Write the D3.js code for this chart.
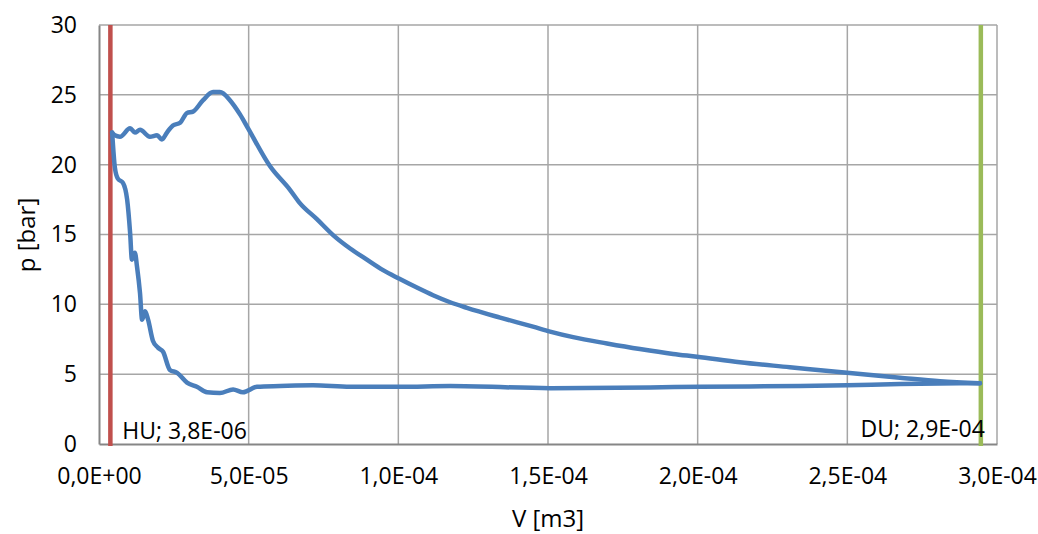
<!DOCTYPE html>
<html>
<head>
<meta charset="utf-8">
<script src="https://cdn.jsdelivr.net/npm/d3@7"></script>
<style>
  html, body { margin: 0; padding: 0; background: #ffffff; }
  svg { display: block; font-family: "Open Sans", "Liberation Sans", sans-serif; }
</style>
</head>
<body>
<svg id="chart" width="1038" height="534"></svg>
<script>
// ---- Data (V in m3, p in bar) ----
// Upper branch (compression), from right to left
const upperV = [294.3e-6, 281.0e-6, 267.6e-6, 249.9e-6, 230.8e-6, 214.1e-6, 199.8e-6, 191.8e-6,
  180.7e-6, 169.7e-6, 158.4e-6, 150.7e-6, 145.0e-6, 134.0e-6, 122.9e-6, 117.3e-6, 111.6e-6,
  106.2e-6, 100.2e-6, 94.9e-6, 89.5e-6, 83.9e-6, 78.2e-6, 72.8e-6, 67.1e-6, 63.8e-6, 57.1e-6,
  49.8e-6, 47.1e-6, 43.8e-6, 40.4e-6, 38.1e-6, 34.7e-6, 31.4e-6, 29.4e-6, 27.1e-6, 24.7e-6,
  22.7e-6, 21.0e-6, 19.4e-6, 17.0e-6, 13.7e-6, 12.0e-6, 10.4e-6, 7.0e-6, 5.3e-6, 4.4e-6];
const upperP = [4.35, 4.5, 4.75, 5.1, 5.5, 5.85, 6.25, 6.45,
  6.8, 7.2, 7.65, 8.05, 8.4, 9.05, 9.75, 10.15, 10.65,
  11.2, 11.85, 12.45, 13.2, 14.0, 14.96, 16.1, 17.25, 18.2, 19.9,
  22.6, 23.6, 24.6, 25.2, 25.2, 24.6, 23.8, 23.7, 23.0, 22.8,
  22.3, 21.8, 22.1, 22.0, 22.5, 22.3, 22.6, 22.0, 22.1, 22.3];
// Lower branch (expansion / suction), from left to right
const lowerV = [4.4e-6, 5.3e-6, 6.3e-6, 8.0e-6, 9.4e-6, 10.4e-6, 11.0e-6, 12.0e-6, 12.7e-6,
  13.7e-6, 14.4e-6, 15.4e-6, 16.4e-6, 18.0e-6, 19.7e-6, 21.4e-6, 23.7e-6, 26.1e-6, 29.4e-6,
  32.7e-6, 36.1e-6, 40.4e-6, 44.8e-6, 48.1e-6, 52.8e-6, 60.5e-6, 71.5e-6, 83.9e-6, 100.6e-6,
  117.3e-6, 150.7e-6, 184.1e-6, 200.8e-6, 234.2e-6, 249.9e-6, 267.6e-6, 294.3e-6];
const lowerP = [22.3, 19.8, 19.0, 18.7, 17.5, 15.1, 13.2, 13.7, 12.7,
  10.8, 8.9, 9.5, 8.9, 7.4, 6.9, 6.6, 5.3, 5.1, 4.4,
  4.1, 3.7, 3.65, 3.9, 3.7, 4.1, 4.15, 4.2, 4.1, 4.1,
  4.15, 4.0, 4.05, 4.1, 4.15, 4.2, 4.3, 4.35];

// Markers (dead centres)
const markerNames = ["HU", "DU"];
const markerV = [3.8e-6, 2.946e-4];
const markerLabels = ["HU; 3,8E-06", "DU; 2,9E-04"];
const markerColors = ["#C0504D", "#9BBB59"];

// Axis ticks
const xTicks = [0, 5e-5, 1e-4, 1.5e-4, 2e-4, 2.5e-4, 3e-4];
const yTicks = [0, 5, 10, 15, 20, 25, 30];
const xTitle = "V [m3]";
const yTitle = "p [bar]";

// ---- Layout ----
const svg = d3.select("#chart");
const pLeft = 99, pRight = 997, pTop = 25, pBottom = 444;
const x = d3.scaleLinear().domain([0, 3e-4]).range([pLeft, pRight]);
const y = d3.scaleLinear().domain([0, 30]).range([pBottom, pTop]);

function fmtE(v) {
  const s = v.toExponential(1); // e.g. "5.0e-5"
  const parts = s.split("e");
  const mant = parts[0].replace(".", ",");
  let exp = parseInt(parts[1], 10);
  const sign = exp < 0 ? "-" : "+";
  exp = Math.abs(exp);
  return mant + "E" + sign + (exp < 10 ? "0" + exp : "" + exp);
}

const FONT = "'Open Sans', 'Liberation Sans', sans-serif";

// Grid
const grid = svg.append("g");
grid.selectAll("line.h").data(yTicks.filter(d => d > 0)).enter().append("line")
  .attr("x1", pLeft).attr("x2", pRight)
  .attr("y1", d => y(d)).attr("y2", d => y(d))
  .attr("stroke", "#A6A6A6").attr("stroke-width", 1.5);
grid.selectAll("line.v").data(xTicks.filter(d => d > 0)).enter().append("line")
  .attr("y1", pTop).attr("y2", pBottom)
  .attr("x1", d => x(d)).attr("x2", d => x(d))
  .attr("stroke", "#A6A6A6").attr("stroke-width", 1.5);

// Axes
const xAxis = d3.axisBottom(x).tickValues(xTicks).tickFormat(fmtE).tickSize(0).tickPadding(24);
const yAxis = d3.axisLeft(y).tickValues(yTicks).tickSize(0).tickPadding(22);
const gx = svg.append("g").attr("transform", `translate(0,${pBottom})`).call(xAxis);
const gy = svg.append("g").attr("transform", `translate(${pLeft},0)`).call(yAxis);
[gx, gy].forEach(g => {
  g.attr("font-size", null).attr("font-family", null);
  g.select(".domain").attr("stroke", "#868686").attr("stroke-width", 2);
  g.selectAll("text").style("font-size", "23px").style("fill", "#000")
    .style("font-family", FONT);
});

// Vertical marker lines
const markers = markerV.map((v, i) => ({ v, label: markerLabels[i], color: markerColors[i], name: markerNames[i] }));
svg.append("g").selectAll("line").data(markers).enter().append("line")
  .attr("x1", d => x(d.v)).attr("x2", d => x(d.v))
  .attr("y1", y(30)).attr("y2", pBottom + 2)
  .attr("stroke", d => d.color).attr("stroke-width", 4.5);

// Blue loop: two branches, each monotone in V
const upperPts = upperV.map((v, i) => [v, upperP[i]]);
const lowerPts = lowerV.map((v, i) => [v, lowerP[i]]);
const lineGen = d3.line().x(d => x(d[0])).y(d => y(d[1])).curve(d3.curveMonotoneX);
svg.append("g").selectAll("path").data([upperPts, lowerPts]).enter().append("path")
  .attr("d", d => lineGen(d))
  .attr("fill", "none").attr("stroke", "#4A7EBB").attr("stroke-width", 4.5)
  .attr("stroke-linejoin", "round").attr("stroke-linecap", "round");

// Marker labels
svg.append("text").attr("x", x(markers[0].v) + 12).attr("y", 439)
  .style("font-size", "23px").style("font-family", FONT).attr("fill", "#000").text(markers[0].label);
svg.append("text").attr("x", x(markers[1].v) + 4).attr("y", 437).attr("text-anchor", "end")
  .style("font-size", "23px").style("font-family", FONT).attr("fill", "#000").text(markers[1].label);

// Axis titles
svg.append("text").attr("x", (pLeft + pRight) / 2).attr("y", 527).attr("text-anchor", "middle")
  .style("font-size", "24px").style("font-family", FONT).attr("fill", "#000").text(xTitle);
svg.append("text").attr("transform", `translate(35,235) rotate(-90)`).attr("text-anchor", "middle")
  .style("font-size", "24px").style("font-family", FONT).attr("fill", "#000").text(yTitle);
</script>
</body>
</html>
